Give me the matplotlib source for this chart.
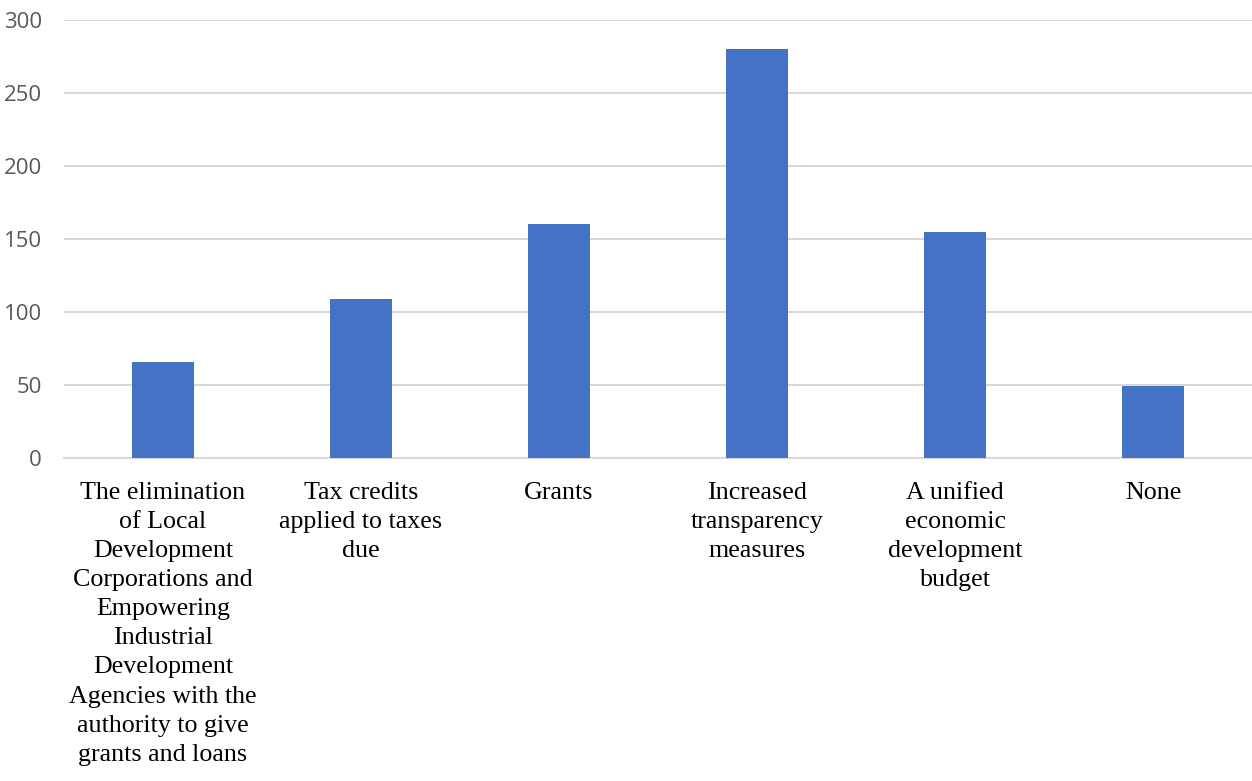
import matplotlib
matplotlib.use("Agg")
import matplotlib.pyplot as plt
import numpy as np

categories = [
    "The elimination\nof Local\nDevelopment\nCorporations and\nEmpowering\nIndustrial\nDevelopment\nAgencies with the\nauthority to give\ngrants and loans",
    "Tax credits\napplied to taxes\ndue",
    "Grants",
    "Increased\ntransparency\nmeasures",
    "A unified\neconomic\ndevelopment\nbudget",
    "None",
]
values = [66, 109, 160, 280, 155, 49]
y_ticks = [0, 50, 100, 150, 200, 250, 300]

fig = plt.figure(figsize=(12.52, 7.81), dpi=100)
ax = fig.add_axes([64 / 1252, 1 - 458 / 781, (1252 - 64) / 1252, 438 / 781])

x = np.arange(len(categories))
ax.bar(x, values, width=0.31, color="#4472C4", zorder=3)

ax.set_xlim(-0.5, len(categories) - 0.5)
ax.set_ylim(0, 300)
ax.set_yticks(y_ticks)
ax.set_yticklabels([str(t) for t in y_ticks], family="Open Sans", fontsize=16, color="#595959")
ax.set_xticks(x)
ax.set_xticklabels(categories, family="Liberation Serif", fontsize=18.7, color="black",
                   linespacing=1.42, va="top", ha="center")

ax.grid(axis="y", color="#d9d9d9", linewidth=1.5, zorder=0)
for side in ["top", "right", "left"]:
    ax.spines[side].set_visible(False)
ax.spines["bottom"].set_color("#d9d9d9")
ax.spines["bottom"].set_linewidth(1.5)
ax.tick_params(axis="both", length=0)
ax.tick_params(axis="x", pad=17)
ax.tick_params(axis="y", pad=16)

fig.savefig("out.png", dpi=100)
